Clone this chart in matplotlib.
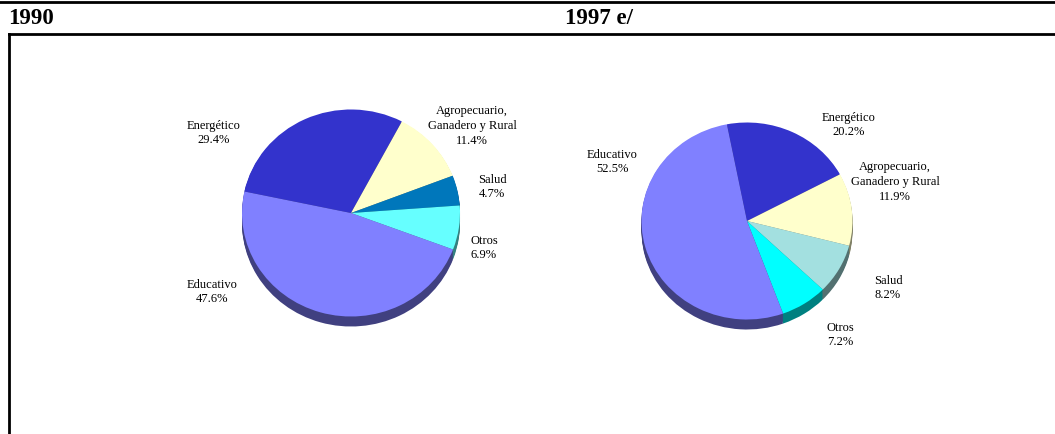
import numpy as np
import matplotlib.pyplot as plt
from matplotlib.lines import Line2D
from matplotlib.colors import to_rgb

plt.rcParams['font.family'] = ['Liberation Serif', 'DejaVu Serif']

# -- 1990
labels90 = ['Energético', 'Agropecuario,\nGanadero y Rural', 'Salud', 'Otros', 'Educativo']
vals90 = [29.4, 11.4, 4.7, 6.9, 47.6]
cols90 = ['#3333cc', '#ffffcc', '#0077bb', '#66ffff', '#8080ff']

# -- 1997 e/
labels97 = ['Energético', 'Agropecuario,\nGanadero y Rural', 'Salud', 'Otros', 'Educativo']
vals97 = [20.2, 11.9, 8.2, 7.2, 52.5]
cols97 = ['#3333cc', '#ffffcc', '#a3e0e0', '#00ffff', '#8080ff']

W, H = 1055, 434
fig = plt.figure(figsize=(W / 100, H / 100), dpi=100)


def draw_pie(ax, vals, cols, start, ry, depth=10):
    dark = [tuple(c * 0.5 for c in to_rgb(k)) for k in cols]
    # side of the "3d" pie: stacked shifted copies
    for d in np.linspace(depth, 1, 8):
        ax.pie(vals, colors=dark, startangle=start, counterclock=False,
               center=(0, -d / ry), radius=1, frame=True,
               wedgeprops=dict(linewidth=0))
    ax.pie(vals, colors=cols, startangle=start, counterclock=False,
           center=(0, 0), radius=1, frame=True,
           wedgeprops=dict(linewidth=0))
    ax.set_aspect('auto')
    ax.set_xlim(-1, 1)
    ax.set_ylim(-1 - depth / ry * 1.2, 1)
    ax.axis('off')


# pie 1990
ry1 = 103.5
ax1 = fig.add_axes([(351 - 109) / W, (H - 213 - ry1 - 12) / H, 218 / W, (2 * ry1 + 12) / H])
draw_pie(ax1, vals90, cols90, 168, ry1)

# pie 1997
ry2 = 98.5
ax2 = fig.add_axes([(747 - 105.5) / W, (H - 221 - ry2 - 12) / H, 211 / W, (2 * ry2 + 12) / H])
draw_pie(ax2, vals97, cols97, 101, ry2)

# overlay in pixel coords for labels and frame
ov = fig.add_axes([0, 0, 1, 1])
ov.set_xlim(0, W)
ov.set_ylim(H, 0)
ov.axis('off')
ov.patch.set_alpha(0)

pos90 = [(214, 133), (472, 126), (492, 187), (484, 248), (212, 292)]
pos97 = [(849, 125), (895, 182), (888, 288), (840, 335), (612, 162)]
for lab, v, (x, y) in zip(labels90, vals90, pos90):
    ov.text(x, y, f'{lab}\n{v:.1f}%', ha='center', va='center', fontsize=9,
            linespacing=1.28)
for lab, v, (x, y) in zip(labels97, vals97, pos97):
    ov.text(x, y, f'{lab}\n{v:.1f}%', ha='center', va='center', fontsize=9,
            linespacing=1.28)

ov.text(8, 19, '1990', fontsize=16.5, fontweight='bold', va='center', ha='left')
ov.text(565, 19, '1997 e/', fontsize=16.5, fontweight='bold', va='center', ha='left')

ov.add_line(Line2D([0, W], [2, 2], color='black', lw=2))
ov.add_line(Line2D([9, W], [34, 34], color='black', lw=2))
ov.add_line(Line2D([9, 9], [34, H], color='black', lw=2))

plt.savefig('out.png', dpi=100)
